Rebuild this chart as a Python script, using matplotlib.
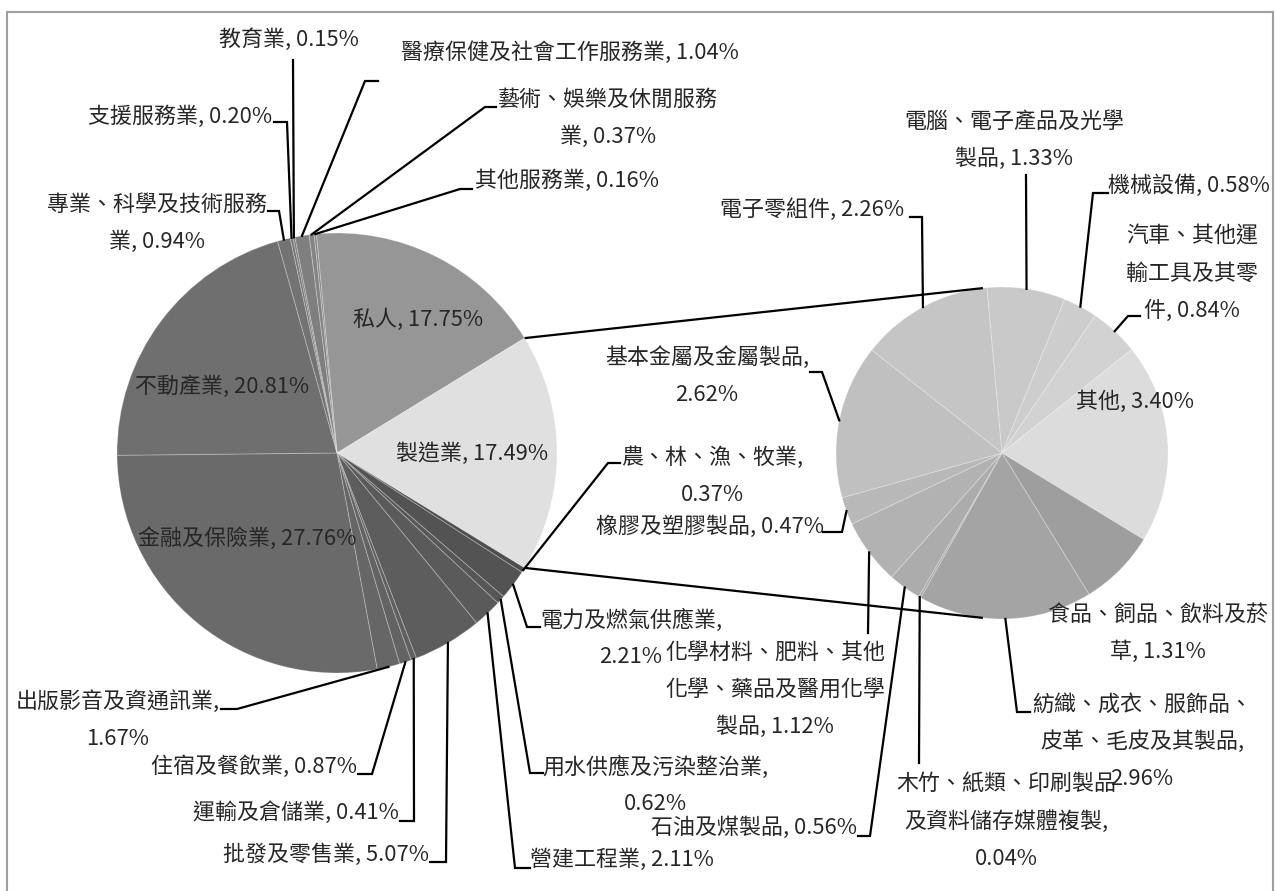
import numpy as np
import matplotlib
matplotlib.use("Agg")
import matplotlib.pyplot as plt
from matplotlib.patches import Rectangle

plt.rcParams['font.family'] = ['Noto Sans CJK TC', 'DejaVu Sans']

# main pie (clockwise from 私人)
main_labels = ['私人', '製造業', '農、林、漁、牧業', '電力及燃氣供應業', '用水供應及污染整治業',
               '營建工程業', '批發及零售業', '運輸及倉儲業', '住宿及餐飲業', '出版影音及資通訊業',
               '金融及保險業', '不動產業', '專業、科學及技術服務業', '支援服務業', '教育業',
               '醫療保健及社會工作服務業', '藝術、娛樂及休閒服務業', '其他服務業']
main_values = [17.75, 17.49, 0.37, 2.21, 0.62, 2.11, 5.07, 0.41, 0.87, 1.67,
               27.76, 20.81, 0.94, 0.20, 0.15, 1.04, 0.37, 0.16]

# secondary pie = breakdown of 製造業 (clockwise from 電子零組件)
sub_labels = ['電子零組件', '電腦、電子產品及光學製品', '機械設備', '汽車、其他運輸工具及其零件',
              '其他', '食品、飼品、飲料及菸草', '紡織、成衣、服飾品、皮革、毛皮及其製品',
              '木竹、紙類、印刷製品及資料儲存媒體複製', '石油及煤製品',
              '化學材料、肥料、其他化學、藥品及醫用化學製品', '橡膠及塑膠製品', '基本金屬及金屬製品']
sub_values = [2.26, 1.33, 0.58, 0.84, 3.40, 1.31, 2.96, 0.04, 0.56, 1.12, 0.47, 2.62]

main_colors = ['#969696', '#e0e0e0', '#4e4e4e', '#535353', '#575757', '#5a5a5a', '#5d5d5d',
               '#606060', '#636363', '#666666', '#6a6a6a', '#6f6f6f', '#737373', '#777777',
               '#7b7b7b', '#7f7f7f', '#848484', '#898989']
sub_colors = ['#c5c5c5', '#c9c9c9', '#cdcdcd', '#d2d2d2', '#dcdcdc', '#9e9e9e', '#a4a4a4',
              '#a8a8a8', '#acacac', '#b2b2b2', '#b8b8b8', '#c0c0c0']

W, H = 1276, 891
MAIN_C, MAIN_R = (337, 453), 220
SUB_C, SUB_R = (1002, 453), 166
SUB_START = 141.7
CONN_ANG = 96.6
GAP = 37

# label layout: line breaks (chars per line), centre x, first-line y, leader (start, elbow x)
main_layout = [
    ([], 418, 320, None),
    ([], 472, 454, None),
    ([9], 712, 458, ((620, 463), 608)),
    ([9], 631, 620, ((540, 627), 527)),
    ([11], 655, 767, ((543, 773), 530)),
    ([], 622, 860, ((530, 868), 515)),
    ([], 326, 855, ((430, 862), 446)),
    ([], 296, 813, ((400, 821), 414)),
    ([], 254, 767, ((358, 774), 372)),
    ([10], 118, 702, ((221, 709), 237)),
    ([], 247, 539, None),
    ([], 222, 387, None),
    ([10], 157, 205, ((268, 211), 279)),
    ([], 180, 117, ((274, 122), 287)),
    ([], 289, 40, ((293, 60), None)),
    ([], 570, 53, ((378, 81), 365)),
    ([10], 608, 100, ((496, 107), 485)),
    ([], 567, 181, ((472, 189), 460)),
]
sub_layout = [
    ([], 812, 210, ((910, 217), 922)),
    ([10], 1014, 122, ((1026, 175), None)),
    ([], 1189, 186, ((1108, 193), 1093)),
    ([6, 6], 1192, 237, ((1140, 316), 1128)),
    ([], 1135, 402, None),
    ([10], 1158, 615, None),
    ([10, 10], 1142, 705, ((1030, 712), 1017)),
    ([10, 10], 1006, 785, ((919, 763), None)),
    ([], 754, 828, ((858, 836), 870)),
    ([10, 10], 775, 653, ((868, 633), None)),
    ([], 710, 527, ((823, 532), 842)),
    ([10], 707, 358, ((810, 372), 822)),
]


def wrap(text, counts):
    lines = []
    for n in counts:
        lines.append(text[:n].strip())
        text = text[n:]
    lines.append(text.strip())
    return lines


fig = plt.figure(figsize=(W / 100, H / 100), dpi=100)
ax = fig.add_axes([0, 0, 1, 1])

main_start = 360 * (main_values[0] + main_values[1] / 2) / sum(main_values)
wp = dict(edgecolor=(1, 1, 1, 0.25), linewidth=0.7)
mw, _ = ax.pie(main_values, colors=main_colors, startangle=main_start, counterclock=False,
               center=(MAIN_C[0], H - MAIN_C[1]), radius=MAIN_R, frame=True, wedgeprops=wp)
sw, _ = ax.pie(sub_values, colors=sub_colors, startangle=SUB_START, counterclock=False,
               center=(SUB_C[0], H - SUB_C[1]), radius=SUB_R, frame=True, wedgeprops=wp)

ax.set_xlim(0, W)
ax.set_ylim(0, H)
ax.set_aspect('equal')
ax.axis('off')

# connector lines from 製造業 wedge to secondary pie
mf = mw[1]
for a_main, a_sub in [(mf.theta2, CONN_ANG), (mf.theta1, -CONN_ANG)]:
    p0 = (MAIN_C[0] + MAIN_R * np.cos(np.radians(a_main)),
          H - MAIN_C[1] + MAIN_R * np.sin(np.radians(a_main)))
    p1 = (SUB_C[0] + SUB_R * np.cos(np.radians(a_sub)),
          H - SUB_C[1] + SUB_R * np.sin(np.radians(a_sub)))
    ax.plot([p0[0], p1[0]], [p0[1], p1[1]], color='black', lw=1.6, zorder=3,
            solid_capstyle='butt')


def draw_labels(wedges, names, values, layout, center, radius):
    for w, name, val, (breaks, x, y, leader) in zip(wedges, names, values, layout):
        text = "{}, {:.2f}%".format(name, val)
        for i, line in enumerate(wrap(text, breaks)):
            ax.text(x, H - (y + i * GAP), line, ha='center', va='center',
                    fontsize=15.8, color='#262626', zorder=5)
        if leader is None:
            continue
        (sx, sy), ex = leader
        mid = np.radians((w.theta1 + w.theta2) / 2)
        px = center[0] + radius * np.cos(mid)
        py = H - center[1] + radius * np.sin(mid)
        xs, ys = [sx], [H - sy]
        if ex is not None:
            xs.append(ex)
            ys.append(H - sy)
        xs.append(px)
        ys.append(py)
        ax.plot(xs, ys, color='black', lw=1.6, zorder=4, solid_joinstyle='miter')


draw_labels(mw, main_labels, main_values, main_layout, MAIN_C, MAIN_R)
draw_labels(sw, sub_labels, sub_values, sub_layout, SUB_C, SUB_R)

ax.add_patch(Rectangle((7, H - 895), 1266, 883, fill=False, edgecolor='#a0a0a0',
                       lw=1.5, zorder=6, clip_on=False))

fig.savefig('out.png', dpi=100)
